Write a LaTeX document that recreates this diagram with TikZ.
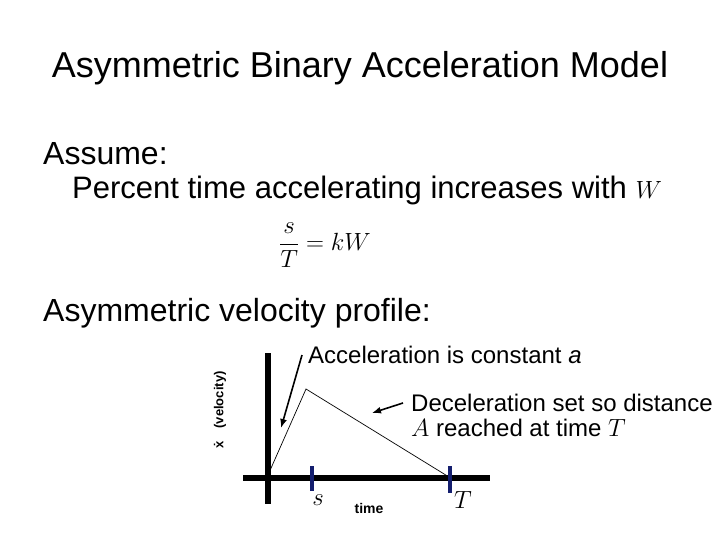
\documentclass[tikz,border=0pt]{standalone}
\usepackage{fontspec}
\setmainfont{Liberation Sans}
\usetikzlibrary{arrows.meta}
\begin{document}
\begin{tikzpicture}[x=1pt, y=-1pt,
      every node/.style={inner sep=0pt, anchor=base west},
      axis/.style={line width=6pt},
      tick/.style={line width=4pt, draw={rgb,255:red,20;green,30;blue,110}},
      pointer/.style={line width=1.6pt, -{Latex[length=9pt, width=7pt]}}]
      \useasboundingbox[fill=white] (0,0) rectangle (720,540);
      \node (title) [anchor=center, font=\fontsize{36}{40}\selectfont] at (360,68) {Asymmetric Binary Acceleration Model};
      \node (assume) [font=\fontsize{32}{36}\selectfont] at (43,165) {Assume:};
      \node (percent) [font=\fontsize{31}{36}\selectfont] at (72,199) {Percent time accelerating increases with $W$};
      \node (eqn) [anchor=center, font=\fontsize{27}{30}\selectfont] at (325,245) {$\displaystyle\frac{s}{T} = kW$};
      \node (profile) [font=\fontsize{32}{36}\selectfont] at (43,321) {Asymmetric velocity profile:};
      % axes
      \coordinate (ytop) at (268,353);
      \coordinate (ybot) at (268,504);
      \coordinate (xleft) at (243,478);
      \coordinate (xright) at (490,478);
      \draw[axis] (ytop) -- (ybot);
      \draw[axis] (xleft) -- (xright);
      % velocity profile
      \coordinate (start) at (268,475);
      \coordinate (peak) at (306,389);
      \coordinate (stop) at (449,477);
      \draw[line width=0.7pt] (start) -- (peak) -- (stop);
      \draw[tick] (312,466) coordinate (s1) -- (312,491) coordinate (s2);
      \draw[tick] (450,466) coordinate (t1) -- (450,493) coordinate (t2);
      \node (slabel) [anchor=center, font=\fontsize{38}{40}\selectfont] at (318,500) {$s$};
      \node (timelabel) [anchor=center, font=\fontsize{14}{16}\selectfont\bfseries] at (369,508) {time};
      \node (tlabel) [anchor=center, font=\fontsize{28}{30}\selectfont] at (463,500) {$T$};
      \node (ylabel) [anchor=center, rotate=90, font=\fontsize{13}{16}\selectfont\bfseries] at (220,410) {\.x\quad(velocity)};
      % notes
      \node (accel) [font=\fontsize{24}{28}\selectfont] at (308,363) {Acceleration is constant \textit{a}};
      \node (decel1) [font=\fontsize{24}{28}\selectfont] at (411,411) {Deceleration set so distance};
      \node (decel2) [font=\fontsize{24}{28}\selectfont] at (411,436) {$A$ reached at time $T$};
      \coordinate (a1) at (302,355);
      \coordinate (a2) at (281,428);
      \coordinate (d1) at (403,403);
      \coordinate (d2) at (372,413);
      \draw[pointer] (a1) -- (a2);
      \draw[pointer] (d1) -- (d2);
\end{tikzpicture}
\end{document}
